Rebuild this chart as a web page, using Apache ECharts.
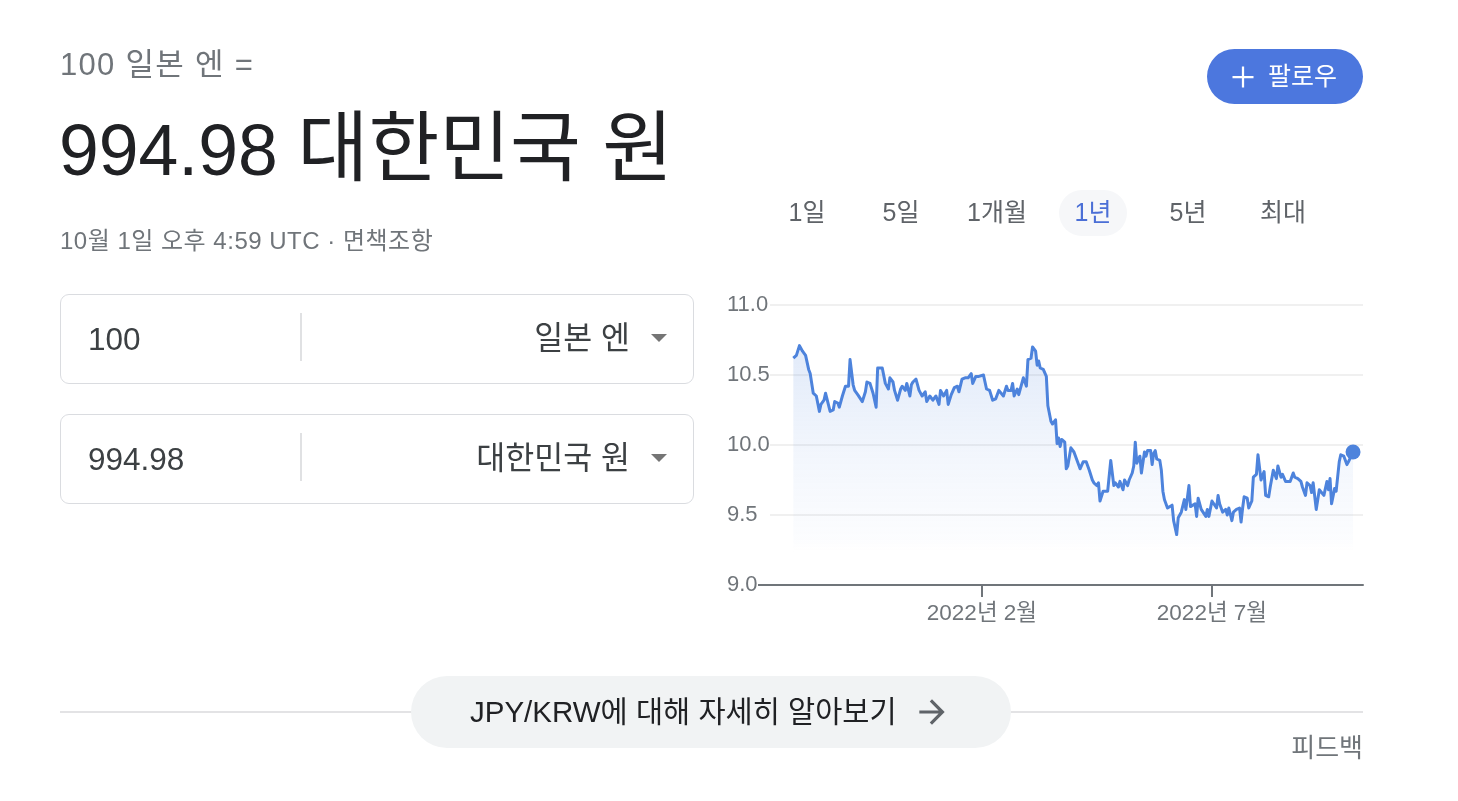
<!DOCTYPE html>
<html lang="ko">
<head>
<meta charset="utf-8">
<script src="https://cdn.jsdelivr.net/npm/echarts@6/dist/echarts.min.js"></script>
<style>
  html, body { margin: 0; padding: 0; background: #fff; }
  body { width: 1458px; height: 801px; position: relative; overflow: hidden;
         font-family: "Liberation Sans", Arial, "Noto Sans CJK KR", sans-serif; }
  #chart { position: absolute; left: 0; top: 0; width: 1458px; height: 801px; }
  .abs { position: absolute; white-space: nowrap; }
  .sub { left: 60px; top: 46px; line-height: 38px; font-size: 31px; letter-spacing: 1.3px; color: #70757a; }
  .big { left: 59px; top: 106px; line-height: 84px; font-size: 71.5px; color: #202124; }
  .big .k { font-size: 77px; }
  .date { left: 60px; top: 226px; line-height: 30px; font-size: 24px; letter-spacing: 0.5px; color: #70757a; }
  .box { position: absolute; left: 60px; width: 634px; height: 90px; box-sizing: border-box;
         border: 1px solid #dadce0; border-radius: 9px; }
  .box .num { position: absolute; left: 27px; top: 0; line-height: 88px; font-size: 31.5px; color: #3c4043; }
  .box .div { position: absolute; left: 239px; top: 18px; width: 2px; height: 48px; background: #e0e1e3; }
  .box .cur { position: absolute; right: 63px; top: 0; line-height: 86px; font-size: 31.5px; color: #3c4043; }
  .box .tri { position: absolute; right: 26px; top: 39px; width: 0; height: 0;
              border-left: 8px solid transparent; border-right: 8px solid transparent; border-top: 8px solid #757575; }
  .rng { top: 194px; line-height: 36px; font-size: 25px; color: #5f6368; transform: translateX(-50%); }
  .pill { position: absolute; left: 1059px; top: 190px; width: 68px; height: 46px; border-radius: 23px; background: #f6f7f9; }
  .follow { position: absolute; left: 1207px; top: 49px; width: 156px; height: 55px; border-radius: 28px; background: #4c77de; }
  .follow svg { position: absolute; left: 18px; top: 10px; }
  .follow span { position: absolute; left: 61px; top: 0; line-height: 55px; font-size: 25px; color: #fff; }
  .hr { position: absolute; left: 60px; top: 711px; width: 1303px; height: 2px; background: #e3e3e5; }
  .learn { position: absolute; left: 411px; top: 676px; width: 600px; height: 72px; border-radius: 36px; background: #f1f3f4; }
  .learn span { position: absolute; left: 59px; top: 0; line-height: 72px; font-size: 29.5px; color: #202124; }
  .learn svg { position: absolute; left: 502px; top: 17px; }
  .fb { right: 95px; top: 732px; line-height: 32px; font-size: 26px; color: #70757a; }
</style>
</head>
<body>
<div id="chart"></div>

<div class="abs sub">100 일본 엔 =</div>
<div class="abs big">994.98 <span class="k">대한민국 원</span></div>
<div class="abs date">10월 1일 오후 4:59 UTC · 면책조항</div>

<div class="box" style="top:294px;">
  <div class="num">100</div><div class="div"></div>
  <div class="cur">일본 엔</div><div class="tri"></div>
</div>
<div class="box" style="top:414px;">
  <div class="num">994.98</div><div class="div"></div>
  <div class="cur">대한민국 원</div><div class="tri"></div>
</div>

<div class="follow">
  <svg width="36" height="36" viewBox="0 0 24 24"><path fill="#fff" d="M19 12.75h-6.25V19h-1.5v-6.25H5v-1.5h6.25V5h1.5v6.25H19z"/></svg>
  <span>팔로우</span>
</div>

<div class="pill"></div>
<div class="abs rng" style="left:807px;">1일</div>
<div class="abs rng" style="left:901px;">5일</div>
<div class="abs rng" style="left:997px;">1개월</div>
<div class="abs rng" style="left:1093px;color:#4b6fd6;">1년</div>
<div class="abs rng" style="left:1188px;">5년</div>
<div class="abs rng" style="left:1283px;">최대</div>

<div class="hr"></div>
<div class="learn">
  <span>JPY/KRW에 대해 자세히 알아보기</span>
  <svg width="38" height="38" viewBox="0 0 24 24"><path fill="#5f6368" d="M12 4l-1.41 1.41L16.17 11H4v2h12.17l-5.58 5.59L12 20l8-8z"/></svg>
</div>
<div class="abs fb">피드백</div>

<script>
// JPY/KRW (KRW per 1 JPY), one year ending 2022-10-01
const startDate = [2021, 9, 1]; // 2021-10-01
const dayOffsets = [
  0,2,4,6,8,9,10,11,13,15,
  16,17,18,20,21,22,24,26,27,29,
  30,32,33,34,36,37,39,40,42,43,
  45,47,48,50,52,54,55,58,60,62,
  63,65,66,68,70,71,73,74,76,77,
  78,80,82,84,86,87,89,91,93,95,
  96,98,100,101,103,105,107,108,110,112,
  114,116,117,119,121,122,124,126,128,130,
  132,134,135,137,139,140,142,143,144,146,
  147,148,150,151,152,153,155,156,158,159,
  160,161,163,165,166,168,169,171,172,173,
  174,175,177,178,179,181,183,184,186,187,
  189,191,193,195,196,198,199,200,202,203,
  205,207,209,210,212,213,215,216,218,219,
  221,222,223,224,226,227,229,230,231,233,
  234,235,236,237,239,240,241,242,244,245,
  247,248,250,251,253,254,255,256,258,259,
  260,262,263,264,266,267,269,270,271,273,
  274,276,277,278,280,282,283,284,286,287,
  289,291,292,293,294,296,297,299,300,302,
  303,305,307,308,310,311,313,315,316,318,
  319,321,322,324,326,327,329,331,332,334,
  335,337,338,339,341,343,344,346,348,349,
  350,351,353,354,356,357,359,361,362,365
];
const rates = [
  10.62,10.64,10.71,10.67,10.64,10.65,10.54,10.51,10.37,10.35,
  10.36,10.24,10.29,10.32,10.37,10.36,10.24,10.25,10.31,10.30,
  10.27,10.35,10.36,10.42,10.42,10.61,10.43,10.39,10.36,10.35,
  10.31,10.38,10.45,10.44,10.37,10.27,10.55,10.55,10.44,10.40,
  10.48,10.45,10.39,10.32,10.40,10.42,10.39,10.44,10.35,10.43,
  10.45,10.47,10.39,10.35,10.38,10.31,10.35,10.32,10.35,10.29,
  10.39,10.35,10.39,10.29,10.36,10.41,10.42,10.38,10.47,10.48,
  10.48,10.51,10.44,10.49,10.49,10.48,10.50,10.40,10.39,10.32,
  10.33,10.39,10.38,10.35,10.42,10.39,10.39,10.44,10.35,10.40,
  10.36,10.35,10.48,10.47,10.42,10.61,10.62,10.70,10.67,10.57,
  10.60,10.55,10.54,10.49,10.28,10.17,10.15,10.18,10.01,10.05,
  9.99,10.04,10.02,9.83,9.85,9.98,9.95,9.94,9.86,9.83,
  9.88,9.88,9.82,9.75,9.73,9.71,9.73,9.60,9.67,9.68,
  9.67,9.89,9.71,9.73,9.70,9.74,9.68,9.75,9.71,9.75,
  9.80,9.85,10.02,9.87,9.92,9.80,9.95,9.92,9.96,9.96,
  9.86,9.94,9.96,9.90,9.89,9.82,9.67,9.61,9.55,9.56,
  9.57,9.46,9.36,9.48,9.52,9.51,9.61,9.54,9.71,9.56,
  9.55,9.58,9.49,9.62,9.54,9.55,9.49,9.54,9.49,9.60,
  9.61,9.55,9.64,9.58,9.52,9.54,9.50,9.55,9.46,9.52,
  9.54,9.55,9.45,9.55,9.63,9.62,9.55,9.60,9.77,9.79,
  9.93,9.75,9.81,9.64,9.63,9.70,9.82,9.76,9.85,9.77,
  9.79,9.74,9.75,9.74,9.80,9.77,9.76,9.74,9.70,9.64,
  9.73,9.71,9.66,9.73,9.54,9.68,9.68,9.64,9.74,9.68,
  9.76,9.58,9.69,9.67,9.88,9.93,9.92,9.86,9.88,9.9498
];
const yTicks = [9.0, 9.5, 10.0, 10.5, 11.0];
const xTickMonths = [[2022, 1], [2022, 6]]; // 2022년 2월, 2022년 7월

const DAY = 86400000;
const t0 = new Date(startDate[0], startDate[1], startDate[2]).getTime();
const seriesData = dayOffsets.map((d, i) => [t0 + d * DAY, rates[i]]);
const lastPoint = seriesData[seriesData.length - 1];
const xTickValues = xTickMonths.map(m => new Date(m[0], m[1], 1).getTime());

const chart = echarts.init(document.getElementById('chart'), null, { renderer: 'canvas' });
const axisGray = '#70757a';
const lineBlue = '#4d83dc';
const fontStack = '"Liberation Sans", Arial, "Noto Sans CJK KR", sans-serif';

chart.setOption({
  animation: false,
  backgroundColor: 'transparent',
  grid: { left: 770, right: 95, top: 305, bottom: 216, containLabel: false },
  xAxis: {
    type: 'value',
    scale: true,
    min: new Date(2021, 8, 15, 19).getTime(),
    max: new Date(2022, 9, 7, 12).getTime(),
    axisLine: { show: true, onZero: false, lineStyle: { color: axisGray, width: 2 } },
    axisTick: { show: true, customValues: xTickValues, length: 12, lineStyle: { color: axisGray, width: 2 } },
    axisLabel: {
      show: true, customValues: xTickValues, margin: 18,
      color: axisGray, fontSize: 22.5, fontFamily: fontStack,
      formatter: v => { const d = new Date(v); return d.getFullYear() + '년 ' + (d.getMonth() + 1) + '월'; }
    },
    splitLine: { show: false }
  },
  yAxis: {
    type: 'value', min: yTicks[0], max: yTicks[yTicks.length - 1], interval: 0.5,
    axisLine: { show: false }, axisTick: { show: false },
    axisLabel: {
      color: axisGray, fontSize: 22, margin: 43, align: 'left',
      fontFamily: fontStack, padding: [3, 0, 0, 0],
      formatter: v => v.toFixed(1)
    },
    splitLine: { show: true, lineStyle: { color: '#f0f0f0', width: 2 } }
  },
  graphic: [{
    type: 'line', z: 5,
    shape: { x1: 758, y1: 585, x2: 771, y2: 585 },
    style: { stroke: axisGray, lineWidth: 2 }
  }],
  series: [{
    type: 'line',
    data: seriesData,
    showSymbol: false,
    smooth: false,
    lineStyle: { color: lineBlue, width: 3, join: 'round' },
    itemStyle: { color: lineBlue },
    areaStyle: {
      origin: 'start',
      color: new echarts.graphic.LinearGradient(0, 0, 0, 1, [
        { offset: 0, color: 'rgba(77,131,220,0.24)' },
        { offset: 0.45, color: 'rgba(77,131,220,0.10)' },
        { offset: 0.82, color: 'rgba(77,131,220,0.025)' },
        { offset: 0.87, color: 'rgba(255,255,255,0)' },
        { offset: 1, color: 'rgba(255,255,255,0)' }
      ])
    },
    z: 3
  }, {
    type: 'scatter',
    data: [lastPoint],
    symbolSize: 15,
    itemStyle: { color: lineBlue, opacity: 1 },
    z: 4
  }]
});
</script>
</body>
</html>
